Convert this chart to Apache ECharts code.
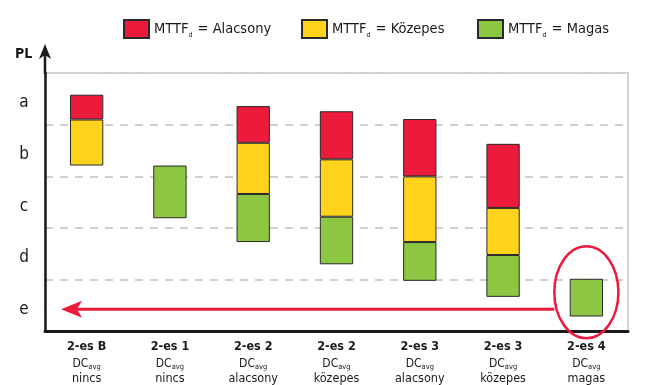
<!DOCTYPE html>
<html>
<head>
<meta charset="utf-8">
<script src="https://cdn.jsdelivr.net/npm/echarts@6/dist/echarts.min.js"></script>
<style>
  html, body { margin: 0; padding: 0; background: #fff; }
  #chart { width: 656px; height: 385px; }
</style>
</head>
<body>
<div id="chart"></div>
<script>
// Category labels (architecture / diagnostic coverage)
const categoryTop = ['2-es B', '2-es 1', '2-es 2', '2-es 2', '2-es 3', '2-es 3', '2-es 4'];
const categoryBottom = ['nincs', 'nincs', 'alacsony', 'közepes', 'alacsony', 'közepes', 'magas'];

// PL levels, bottom to top
const levelLabels = ['e', 'd', 'c', 'b', 'a'];

// Ranges reached for each MTTFd class, [low, high] on the PL scale (0..5)
const greenRange  = [null, [2.19, 3.21], [1.73, 2.66], [1.30, 2.22], [0.98, 1.73], [0.67, 1.48], [0.29, 1.02]];
const yellowRange = [[3.21, 4.10], null, [2.66, 3.65], [2.22, 3.33], [1.73, 3.00], [1.48, 2.39], null];
const redRange    = [[4.10, 4.58], null, [3.65, 4.36], [3.33, 4.26], [3.00, 4.11], [2.39, 3.63], null];

// MTTFd classes, in legend order
const seriesNames = ['Alacsony', 'Közepes', 'Magas'];

const FONT = "'DejaVu Sans Condensed', 'Liberation Sans', sans-serif";
const INK = '#1a1a1a';
const RED = '#ED1B3B', YELLOW = '#FFD31C', GREEN = '#8DC641';
const EDGE = '#2a2a2a';

const categories = categoryTop.map((t, i) => t + ' ' + categoryBottom[i]);

// invisible base under each floating column, then the stacked segment heights
const base = categories.map((_, i) => {
  const lows = [greenRange[i], yellowRange[i], redRange[i]].filter(Boolean).map(r => r[0]);
  return Math.min(...lows);
});
const height = ranges => ranges.map(r => r ? +(r[1] - r[0]).toFixed(3) : '-');

const segStyle = color => ({ color: color, borderColor: EDGE, borderWidth: 1 });

// one legend block per class, laid out along the top
const legendLeft = [118, 296, 472];
const legends = seriesNames.map((name, k) => ({
  data: [name],
  left: legendLeft[k], top: 14,
  itemWidth: 25, itemHeight: 18,
  icon: 'rect',
  formatter: n => '{m|MTTF}{d|d}{m| = ' + n + '}',
  textStyle: {
    rich: {
      m: { fontFamily: FONT, fontSize: 14.5, color: INK, lineHeight: 20 },
      d: { fontFamily: FONT, fontSize: 7, color: INK, lineHeight: 9, verticalAlign: 'bottom', padding: [0, 1, 0, 0] }
    }
  }
}));

const chart = echarts.init(document.getElementById('chart'), null, { renderer: 'canvas' });

chart.setOption({
  animation: false,
  title: {
    text: 'PL', left: 15, top: 47, padding: 0,
    textStyle: { fontFamily: FONT, fontWeight: 'bold', fontSize: 14, color: INK }
  },
  legend: legends,
  grid: {
    left: 45, right: 28, top: 73, bottom: 53,
    show: true, borderColor: '#d4d4d4', borderWidth: 2
  },
  xAxis: {
    type: 'category',
    data: categories,
    axisLine: { lineStyle: { color: INK, width: 3 } },
    axisTick: { inside: true, length: 9, lineStyle: { color: INK, width: 2 } },
    axisLabel: {
      margin: 6,
      interval: 0,
      formatter: (v, i) => '{t|' + categoryTop[i] + '}\n{dc|DC}{s|avg}\n{n|' + categoryBottom[i] + '}',
      rich: {
        t: { fontFamily: FONT, fontWeight: 'bold', fontSize: 12.5, lineHeight: 18, color: INK },
        dc: { fontFamily: FONT, fontSize: 12, lineHeight: 16, color: INK },
        s: { fontFamily: FONT, fontSize: 7.5, lineHeight: 10, verticalAlign: 'bottom', color: INK },
        n: { fontFamily: FONT, fontSize: 12.5, lineHeight: 14, color: INK }
      }
    },
    splitLine: { show: false }
  },
  yAxis: [
    {
      type: 'value', min: 0, max: 5, interval: 1,
      axisLine: { show: true, lineStyle: { color: INK, width: 2.5 } },
      axisTick: { show: false },
      axisLabel: { show: false },
      splitLine: { lineStyle: { color: '#d0d0d0', width: 2, type: [8, 7] } }
    },
    {
      type: 'category', position: 'left',
      data: levelLabels,
      axisLine: { show: false },
      axisTick: { show: false },
      splitLine: { show: false },
      axisLabel: {
        margin: 21, align: 'center',
        formatter: v => '{l|' + v + '}',
        rich: { l: { fontFamily: FONT, fontSize: 17, color: INK, padding: [8, 0, 0, 0] } }
      }
    }
  ],
  series: [
    {
      name: 'base', type: 'bar', stack: 'pl', barWidth: '40%', silent: true,
      itemStyle: { color: 'transparent', borderWidth: 0 },
      data: base
    },
    { name: 'Magas', type: 'bar', stack: 'pl', barWidth: '40%', itemStyle: segStyle(GREEN), data: height(greenRange) },
    { name: 'Közepes', type: 'bar', stack: 'pl', barWidth: '40%', itemStyle: segStyle(YELLOW), data: height(yellowRange) },
    { name: 'Alacsony', type: 'bar', stack: 'pl', barWidth: '40%', itemStyle: segStyle(RED), data: height(redRange) }
  ]
});

// Axis arrow and the highlighted "2-es 4" annotation, placed through the axes' scales
const px = i => chart.convertToPixel({ xAxisIndex: 0 }, i);
const py = v => chart.convertToPixel({ yAxisIndex: 0 }, v);
const band = px(1) - px(0);
const xLeft = px(0) - band / 2;
const yTop = py(5);

const highlightIndex = 6;      // column circled in red
const highlightMid = 0.76;     // vertical centre of the ring, PL scale
const highlightHalf = 0.89;    // vertical half-size of the ring, PL scale
const arrowLevel = 0.43;       // height of the red arrow, PL scale

const cx = px(highlightIndex);
const cy = py(highlightMid);
const rx = band * 0.385;
const ry = py(highlightMid - highlightHalf) - cy;
const ay = py(arrowLevel);
const tipX = xLeft + 16;

chart.setOption({
  graphic: [
    {
      type: 'line', z: 100,
      shape: { x1: xLeft, y1: yTop + 1, x2: xLeft, y2: yTop - 19 },
      style: { stroke: INK, lineWidth: 2.5 }
    },
    {
      type: 'polygon', z: 100,
      shape: { points: [[xLeft, yTop - 29], [xLeft + 6, yTop - 14], [xLeft, yTop - 18], [xLeft - 6, yTop - 14]] },
      style: { fill: INK }
    },
    {
      type: 'ellipse', z: 100,
      shape: { cx: cx, cy: cy, rx: rx, ry: ry },
      style: { fill: 'none', stroke: RED, lineWidth: 2.5 }
    },
    {
      type: 'line', z: 100,
      shape: { x1: cx - rx, y1: ay, x2: tipX + 16, y2: ay },
      style: { stroke: RED, lineWidth: 3 }
    },
    {
      type: 'polygon', z: 100,
      shape: { points: [[tipX, ay], [tipX + 21, ay - 8.5], [tipX + 16, ay], [tipX + 21, ay + 8.5]] },
      style: { fill: RED }
    }
  ]
});
</script>
</body>
</html>
